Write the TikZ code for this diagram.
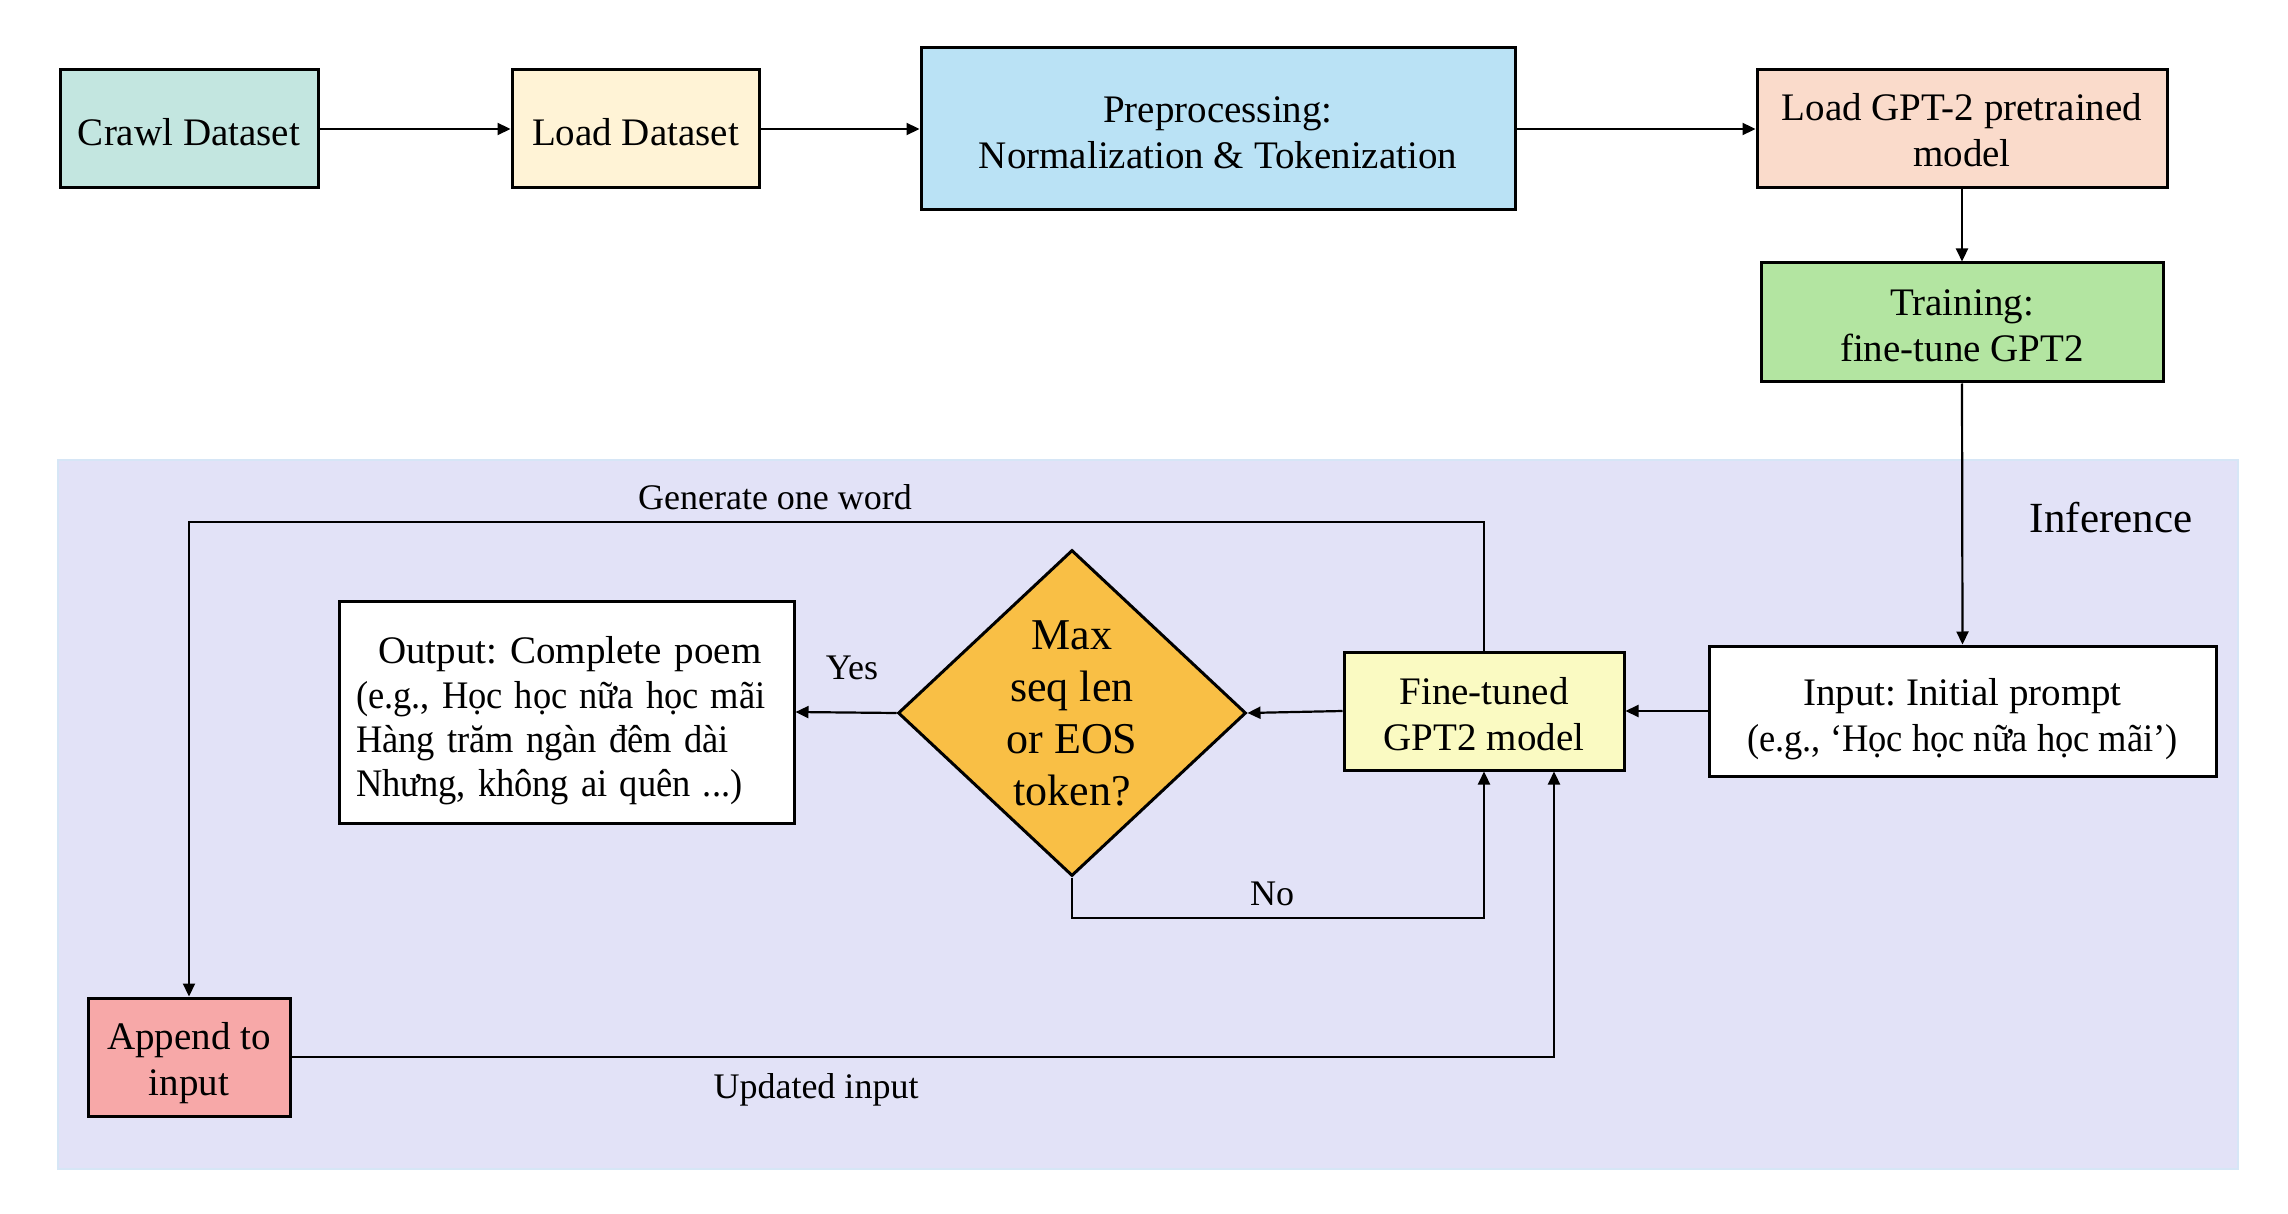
\documentclass[tikz,border=0pt]{standalone}
\usepackage{fontspec}
\usepackage{graphicx}
\setmainfont{Liberation Serif}
\frenchspacing
\usetikzlibrary{arrows.meta,shapes.geometric,calc}
\definecolor{cCrawl}{HTML}{C3E6E0}
\definecolor{cLoad}{HTML}{FFF3D6}
\definecolor{cPrep}{HTML}{BAE2F5}
\definecolor{cGpt}{HTML}{FADBCB}
\definecolor{cTrain}{HTML}{B3E5A1}
\definecolor{cInf}{HTML}{E2E2F7}
\definecolor{cInfB}{HTML}{D6E6F6}
\definecolor{cFine}{HTML}{FAFAC2}
\definecolor{cDia}{HTML}{F9BF45}
\definecolor{cApp}{HTML}{F7A8A8}
\newcommand{\vn}[1]{\scalebox{0.935}[1]{#1}}
\newcommand{\st}[1]{\rule{0pt}{#1}}
\begin{document}
\begin{tikzpicture}[x=0.5pt,y=-0.5pt,
  box/.style={draw, line width=1.5pt, align=center, inner sep=0pt,
    font=\fontsize{19.5}{23}\selectfont},
  conn/.style={line width=1.1pt, -{Triangle[length=6.5pt,width=6pt]}},
  lab/.style={font=\fontsize{18}{21}\selectfont, inner sep=0pt}]
\useasboundingbox (0,0) rectangle (2288,1214);
\fill[white] (0,0) rectangle (2288,1214);
\filldraw[fill=cInf, draw=cInfB, line width=1pt] (58,460) rectangle (2238,1169);

\node[box, fill=cCrawl, minimum width=129pt, minimum height=59pt] (crawl) at (189,129) {\st{16.3pt}Crawl Dataset};
\node[box, fill=cLoad, minimum width=123.5pt, minimum height=59pt] (load) at (635.5,129) {\st{16.3pt}Load Dataset};
\node[box, fill=cPrep, minimum width=297pt, minimum height=81pt] (prep) at (1218,129) {\st{16.3pt}Preprocessing:\\Normalization \& Tokenization};
\node[box, fill=cGpt, minimum width=205pt, minimum height=59pt] (gpt) at (1962,129) {\st{14.8pt}Load GPT-2 pretrained\\model};
\node[box, fill=cTrain, minimum width=201pt, minimum height=59.5pt] (train) at (1962,322.5) {\st{16.3pt}Training:\\fine-tune GPT2};

\node[box, fill=white, minimum width=253.5pt, minimum height=65pt] (input) at (1962.5,711) {\st{21.3pt}Input: Initial prompt\\\vn{(e.g., ‘Học học nữa học mãi’)}};
\node[box, fill=cFine, minimum width=140pt, minimum height=59pt] (fine) at (1484,711) {\st{16.3pt}Fine-tuned\\GPT2 model};
\node[diamond, draw, line width=1.5pt, fill=cDia, minimum width=174pt, minimum height=163pt, inner sep=0pt, align=center, font=\fontsize{22}{26}\selectfont] (dec) at (1072,713) {Max\\seq len\\or EOS\\token?};
\node[box, fill=white, minimum height=111pt, text width=210.5pt, inner xsep=8.5pt, align=left, font=\fontsize{19.5}{22.2}\selectfont] (output) at (566.5,712) {\st{22.5pt}\hspace*{11pt}Output: Complete poem\\\vn{(e.g., Học học nữa học mãi}\\\vn{Hàng trăm ngàn đêm dài}\\\vn{Nhưng, không ai quên ...)}};
\node[box, fill=cApp, minimum width=101pt, minimum height=59pt] (append) at (189,1057) {\st{19.9pt}Append to\\input};

\node[font=\fontsize{21.5}{25}\selectfont, inner sep=0pt] (inf) at (2111,518) {Inference};
\node[lab] (lgen) at (775,497) {Generate one word};
\node[lab] (lyes) at (852,668) {Yes};
\node[lab] (lno) at (1272,894) {No};
\node[lab] (lupd) at (816,1090) {Updated input};

\coordinate (gy) at (0,522);
\coordinate (ny) at (0,918);
\coordinate (ux) at (1554,0);

\draw[conn] (crawl.east) -- (load.west);
\draw[conn] (load.east) -- (prep.west);
\draw[conn] (prep.east) -- (gpt.west);
\draw[conn] (gpt.south) -- (train.north);
\draw[conn] (train.south) -- (input.north);
\draw[conn] (input.west) -- (fine.east);
\draw[conn] (fine.west) -- (dec.east);
\draw[conn] (dec.west) -- (output.east);
\draw[conn] (fine.north) -- (fine.north |- gy) -| (append.north);
\draw[conn] (dec.south) -- (dec.south |- ny) -| (fine.south);
\draw[conn] (append.east) -| (ux |- fine.south);
\end{tikzpicture}
\end{document}
